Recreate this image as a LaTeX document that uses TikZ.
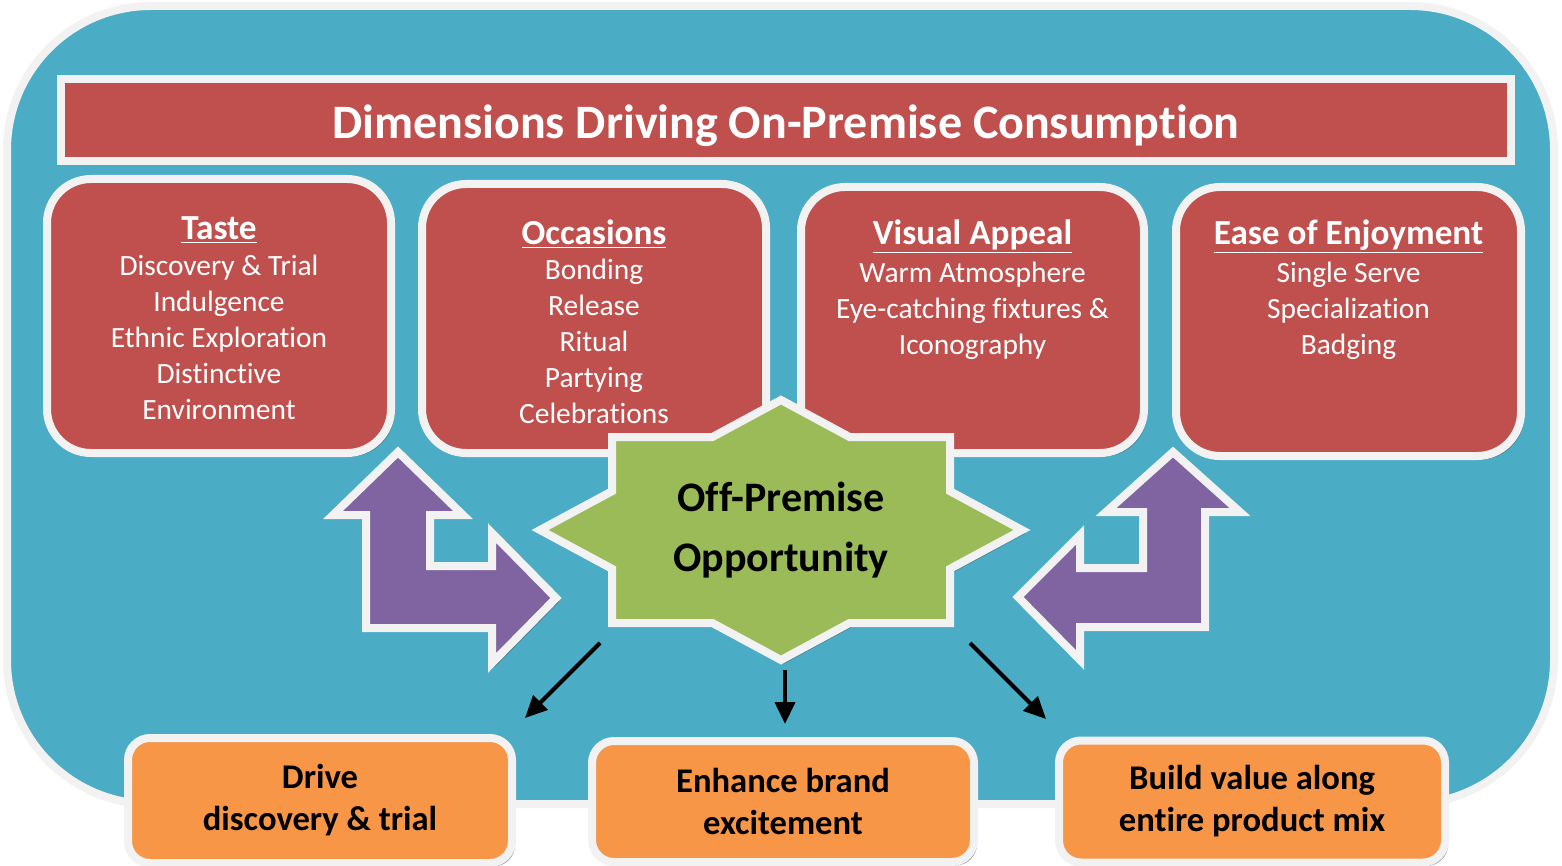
\documentclass[tikz,border=0pt]{standalone}
\usepackage{fontspec}
\setmainfont{Carlito}[Ligatures=NoCommon]
\usetikzlibrary{shadows,arrows.meta}
\definecolor{bgblue}{HTML}{4BACC6}
\definecolor{boxred}{HTML}{C0504D}
\definecolor{stargreen}{HTML}{9BBB59}
\definecolor{arrpurple}{HTML}{8064A2}
\definecolor{boxorange}{HTML}{F79646}
\definecolor{wedge}{HTML}{F2F2F2}
\definecolor{shade}{HTML}{3A5A66}
\newcommand\boxtitlefont{\bfseries\fontsize{17.6}{19}\selectfont}
\begin{document}
\begin{tikzpicture}[x=0.5pt,y=-0.5pt,
  shd/.style={drop shadow={shadow xshift=1.6pt,shadow yshift=-1.8pt,fill=shade,opacity=.55}},
  framebox/.style={draw=wedge,line width=4pt,fill=bgblue,rounded corners=72pt,inner sep=0pt,
     drop shadow={shadow xshift=1.2pt,shadow yshift=-1.2pt,fill=shade,opacity=.5}},
  titlebar/.style={draw=wedge,line width=4pt,fill=boxred,inner sep=0pt,shd},
  topbox/.style={draw=wedge,line width=4pt,fill=boxred,rounded corners=22pt,inner sep=0pt,shd},
  boxtext/.style={text=white,align=center,anchor=north,inner sep=0pt,
     font=\fontsize{14.7}{18}\selectfont},
  botbox/.style={draw=wedge,line width=4pt,fill=boxorange,rounded corners=11pt,inner sep=0pt,
     align=center,font=\bfseries\fontsize{17.3}{21}\selectfont,shd},
  purarrow/.style={draw=wedge,line width=4pt,fill=arrpurple,line join=miter,shd},
  starshape/.style={draw=wedge,line width=4pt,fill=stargreen,line join=miter,shd},
  blarrow/.style={draw=black,line width=2pt,-{Triangle[length=11pt,width=10pt]}}
]
\useasboundingbox (0,0) rectangle (1562,866);

% outer frame
\node[framebox,minimum width=773.5pt,minimum height=399pt] (frame) at (780.5,405) {};

% title bar
\node[titlebar,minimum width=725pt,minimum height=41pt] (title) at (786,120) {};
\node[text=white,font=\bfseries\fontsize{24}{26}\selectfont,inner sep=0pt] (titletext) at (786,126)
  {Dimensions Driving On-Premise Consumption};

% top boxes
\node[topbox,minimum width=172pt,minimum height=137pt] (taste) at (219,316) {};
\node[topbox,minimum width=172pt,minimum height=134.5pt] (occ) at (594,318.5) {};
\node[topbox,minimum width=171.5pt,minimum height=133pt] (vis) at (972.5,320) {};
\node[topbox,minimum width=172.5pt,minimum height=134.5pt] (ease) at (1348.5,321.5) {};

\node[boxtext] (tastetext) at (219,216) {{\boxtitlefont\underline{Taste}}\\[0.3pt]
  Discovery \& Trial\\ Indulgence\\ Ethnic Exploration\\ Distinctive\\ Environment};
\node[boxtext] (occtext) at (594,219) {{\boxtitlefont\underline{Occasions}}\\[-0.5pt]
  Bonding\\ Release\\ Ritual\\ Partying\\ Celebrations};
\node[boxtext] (vistext) at (972.5,219) {{\boxtitlefont\underline{Visual Appeal}}\\[1pt]
  Warm Atmosphere\\ Eye-catching fixtures \&\\ Iconography};
\node[boxtext] (easetext) at (1348.5,219) {{\boxtitlefont\underline{Ease of Enjoyment}}\\[1pt]
  Single Serve\\ Specialization\\ Badging};

% purple bent arrows
\draw[purarrow] (398,452) -- (463,515) -- (430,515) -- (430,566) -- (492,566) -- (492,533)
  -- (556,598) -- (492,663) -- (492,628) -- (366,628) -- (366,515) -- (333,515) -- cycle;
\draw[purarrow] (1173,452) -- (1240,512) -- (1205,512) -- (1205,627) -- (1080,627) -- (1080,660)
  -- (1018,597) -- (1080,535) -- (1080,568) -- (1143,568) -- (1143,512) -- (1106,512) -- cycle;

% star
\draw[starshape] (781,400) -- (849.6,437) -- (950,437) -- (950,491.2) -- (1022,530) -- (950,568.8)
  -- (950,623) -- (849.6,623) -- (781,660) -- (712.4,623) -- (612,623) -- (612,568.8)
  -- (540,530) -- (612,491.2) -- (612,437) -- (712.4,437) -- cycle;
\node[align=center,font=\bfseries\fontsize{21}{30}\selectfont,inner sep=0pt] (opp) at (781,530)
  {Off-Premise\\ Opportunity};

% bottom boxes
\node[botbox,minimum width=192pt,minimum height=62.5pt] (b1) at (320,800.5) {Drive\\ discovery \& trial};
\node[botbox,minimum width=191pt,minimum height=60.5pt] (b2) at (783,801.5) {Enhance brand\\ excitement};
\node[botbox,minimum width=193pt,minimum height=61pt] (b3) at (1252,801.5) {Build value along\\ entire product mix};

% black arrows
\coordinate (s1) at (600,643);
\coordinate (e1) at (525,718);
\coordinate (s2) at (785,670);
\coordinate (e2) at (785,724);
\coordinate (s3) at (970,643);
\coordinate (e3) at (1046,719);
\draw[blarrow] (s1) -- (e1);
\draw[blarrow] (s2) -- (e2);
\draw[blarrow] (s3) -- (e3);
\end{tikzpicture}
\end{document}
